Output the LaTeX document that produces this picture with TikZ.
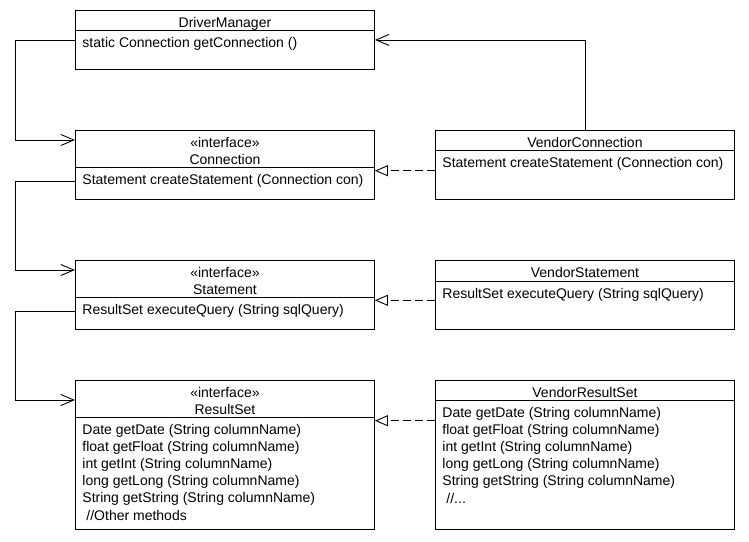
\documentclass[tikz,border=0pt]{standalone}
\usepackage{fontspec}
\setmainfont{Liberation Sans}
\usepackage{tikz}
\usetikzlibrary{calc,arrows.meta}

\begin{document}
\begin{tikzpicture}[x=1pt,y=-1pt,line width=0.9pt,font=\fontsize{14}{17.2}\selectfont,
    CLS/.style={draw=black,rectangle,anchor=north west,minimum width=299pt,inner sep=0pt},
    TXT/.style={anchor=base west,inner sep=0pt},
    AR/.style={-{Straight Barb[length=13pt,width=11pt]}},
    RL/.style={dash pattern=on 8pt off 4pt,-{Triangle[open,length=13pt,width=11pt]}}]
    \useasboundingbox (0,0) rectangle (749,541);
    % DriverManager class
    \node[CLS,minimum height=59pt] (dm) at (75,10) {};
    \draw ($(dm.north west)+(0,20)$) -- ($(dm.north east)+(0,20)$);
    \node[TXT] (dmname) at ($(dm.north west)+(0,17)$) {\parbox[t]{299pt}{\centering DriverManager}};
    \node[TXT] (dmops) at ($(dm.north west)+(7,37)$) {\parbox[t]{290pt}{static Connection getConnection ()}};
    % Connection interface
    \node[CLS,minimum height=69pt] (con) at (75,130) {};
    \draw ($(con.north west)+(0,37)$) -- ($(con.north east)+(0,37)$);
    \node[TXT] (conname) at ($(con.north west)+(0,17)$) {\parbox[t]{299pt}{\centering «interface»\\Connection}};
    \node[TXT] (conops) at ($(con.north west)+(7,54)$) {\parbox[t]{290pt}{Statement createStatement (Connection con)}};
    % Statement interface
    \node[CLS,minimum height=69pt] (stm) at (75,260) {};
    \draw ($(stm.north west)+(0,37)$) -- ($(stm.north east)+(0,37)$);
    \node[TXT] (stmname) at ($(stm.north west)+(0,17)$) {\parbox[t]{299pt}{\centering «interface»\\Statement}};
    \node[TXT] (stmops) at ($(stm.north west)+(7,54)$) {\parbox[t]{290pt}{ResultSet executeQuery (String sqlQuery)}};
    % ResultSet interface
    \node[CLS,minimum height=149pt] (rs) at (75,380) {};
    \draw ($(rs.north west)+(0,37)$) -- ($(rs.north east)+(0,37)$);
    \node[TXT] (rsname) at ($(rs.north west)+(0,17)$) {\parbox[t]{299pt}{\centering «interface»\\ResultSet}};
    \node[TXT] (rsops) at ($(rs.north west)+(7,54)$) {\parbox[t]{290pt}{Date getDate (String columnName)\\
        float getFloat (String columnName)\\int getInt (String columnName)\\long getLong (String columnName)\\
        String getString (String columnName)\\\hspace*{4pt}//Other methods}};
    % VendorConnection class
    \node[CLS,minimum height=69pt] (vc) at (435,130) {};
    \draw ($(vc.north west)+(0,20)$) -- ($(vc.north east)+(0,20)$);
    \node[TXT] (vcname) at ($(vc.north west)+(0,17)$) {\parbox[t]{299pt}{\centering VendorConnection}};
    \node[TXT] (vcops) at ($(vc.north west)+(7,37)$) {\parbox[t]{290pt}{Statement createStatement (Connection con)}};
    % VendorStatement class
    \node[CLS,minimum height=69pt] (vs) at (435,260) {};
    \draw ($(vs.north west)+(0,21)$) -- ($(vs.north east)+(0,21)$);
    \node[TXT] (vsname) at ($(vs.north west)+(0,17)$) {\parbox[t]{299pt}{\centering VendorStatement}};
    \node[TXT] (vsops) at ($(vs.north west)+(7,38)$) {\parbox[t]{290pt}{ResultSet executeQuery (String sqlQuery)}};
    % VendorResultSet class
    \node[CLS,minimum height=149pt] (vrs) at (435,380) {};
    \draw ($(vrs.north west)+(0,20)$) -- ($(vrs.north east)+(0,20)$);
    \node[TXT] (vrsname) at ($(vrs.north west)+(0,17)$) {\parbox[t]{299pt}{\centering VendorResultSet}};
    \node[TXT] (vrsops) at ($(vrs.north west)+(7,37)$) {\parbox[t]{290pt}{Date getDate (String columnName)\\
        float getFloat (String columnName)\\int getInt (String columnName)\\long getLong (String columnName)\\
        String getString (String columnName)\\\hspace*{4pt}//...}};
    % ARROWS
    % DriverManager to Connection, Connection to Statement, Statement to ResultSet
    \draw[AR] (dm.west) -- ++(-60,0) |- ($(con.north west)+(0,10)$);
    \draw[AR] ($(con.north west)+(0,51)$) -- ++(-60,0) |- ($(stm.north west)+(0,10)$);
    \draw[AR] ($(stm.north west)+(0,51)$) -- ++(-60,0) |- ($(rs.north west)+(0,20)$);
    % VendorConnection back to DriverManager
    \draw[AR] (vc.north) |- (dm.east);
    % REALIZATIONS
    \draw[RL] ($(vc.north west)+(0,40.7)$) -- ($(con.north east)+(0,40.7)$);
    \draw[RL] ($(vs.north west)+(0,40.3)$) -- ($(stm.north east)+(0,40.3)$);
    \draw[RL] ($(vrs.north west)+(0,40.7)$) -- ($(rs.north east)+(0,40.7)$);
\end{tikzpicture}
\end{document}
